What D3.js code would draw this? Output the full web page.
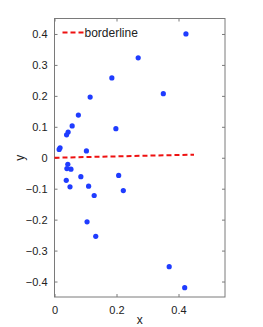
<!DOCTYPE html>
<html>
<head>
<meta charset="utf-8">
<script src="https://cdn.jsdelivr.net/npm/d3@7"></script>
<style>
  body { margin: 0; background: #fff; }
  svg { font-family: "Liberation Sans", Arial, sans-serif; }
</style>
</head>
<body>
<div id="chart"></div>
<script>
// data
const xs = [0.424, 0.270, 0.185, 0.115, 0.351, 0.077, 0.057, 0.044, 0.039, 0.198,
  0.018, 0.015, 0.103, 0.043, 0.040, 0.053, 0.085, 0.038, 0.207, 0.050,
  0.110, 0.222, 0.128, 0.105, 0.133, 0.370, 0.420];
const ys = [0.400, 0.323, 0.258, 0.196, 0.207, 0.138, 0.103, 0.083, 0.074, 0.094,
  0.032, 0.027, 0.022, -0.021, -0.035, -0.037, -0.061, -0.073, -0.057, -0.094,
  -0.092, -0.106, -0.122, -0.207, -0.254, -0.352, -0.420];
const lineX = [0, 0.45];
const lineY = [0, 0.01];
const xTicks = [0, 0.2, 0.4];
const yTicks = [-0.4, -0.3, -0.2, -0.1, 0, 0.1, 0.2, 0.3, 0.4];

let dimensions = {
  width: 263,
  height: 327,
  margin: { top: 18.5, bottom: 30, left: 54.5, right: 38 },
};
dimensions.containerWidth = dimensions.width - dimensions.margin.left - dimensions.margin.right;
dimensions.containerHeight = dimensions.height - dimensions.margin.top - dimensions.margin.bottom;

const svg = d3.select("#chart").append("svg")
  .attr("width", dimensions.width)
  .attr("height", dimensions.height);

const container = svg.append("g")
  .attr("transform", `translate(${dimensions.margin.left}, ${dimensions.margin.top})`);

const xScale = d3.scaleLinear().domain([0, 0.55]).range([0, dimensions.containerWidth]);
const yScale = d3.scaleLinear().domain([-0.45, 0.45]).range([dimensions.containerHeight, 0]);

const fmt = (d) => d === 0 ? "0" : (d < 0 ? "\u2212" : "") + Math.abs(d).toFixed(1);

// axes, matlab style: ticks inside, mirrored
const axisColor = "#7a7a7a";
function styleAxis(g) {
  g.select(".domain").remove();
  g.selectAll(".tick line").attr("stroke", axisColor);
  g.selectAll(".tick text").attr("fill", "#222").style("font-size", "11px");
}
container.append("g")
  .attr("transform", `translate(0, ${dimensions.containerHeight})`)
  .call(d3.axisBottom(xScale).tickValues(xTicks).tickFormat(fmt).tickSizeInner(-3).tickPadding(9))
  .call(styleAxis);
container.append("g")
  .call(d3.axisTop(xScale).tickValues(xTicks).tickSizeInner(-3).tickFormat(""))
  .call(styleAxis);
container.append("g")
  .call(d3.axisLeft(yScale).tickValues(yTicks).tickFormat(fmt).tickSizeInner(-3).tickPadding(7))
  .call(styleAxis);
container.append("g")
  .attr("transform", `translate(${dimensions.containerWidth}, 0)`)
  .call(d3.axisRight(yScale).tickValues(yTicks).tickSizeInner(-3).tickFormat(""))
  .call(styleAxis);

container.append("rect")
  .attr("width", dimensions.containerWidth)
  .attr("height", dimensions.containerHeight)
  .attr("fill", "none")
  .attr("stroke", axisColor)
  .attr("stroke-width", 1);

// borderline
const line = d3.line().x((d) => xScale(d[0])).y((d) => yScale(d[1]));
container.append("path")
  .datum(d3.zip(lineX, lineY))
  .attr("d", line)
  .attr("fill", "none")
  .attr("stroke", "#ee1111")
  .attr("stroke-width", 2)
  .attr("stroke-dasharray", "5,3");

// points
container.selectAll("circle")
  .data(d3.zip(xs, ys))
  .join("circle")
  .attr("r", 2.6)
  .attr("fill", "#1f3cff")
  .attr("cx", (d) => xScale(d[0]))
  .attr("cy", (d) => yScale(d[1]));

// legend
container.append("line")
  .attr("x1", 8).attr("x2", 29)
  .attr("y1", 14).attr("y2", 14)
  .attr("stroke", "#ee1111")
  .attr("stroke-width", 2)
  .attr("stroke-dasharray", "5,3");
container.append("text")
  .attr("x", 30).attr("y", 18.5)
  .attr("fill", "#222")
  .style("font-size", "12px")
  .text("borderline");

// labels
svg.append("text")
  .attr("x", dimensions.margin.left + dimensions.containerWidth / 2)
  .attr("y", 324)
  .attr("text-anchor", "middle")
  .attr("fill", "#222")
  .style("font-size", "12px")
  .text("x");
svg.append("text")
  .attr("transform", `translate(24, ${dimensions.margin.top + dimensions.containerHeight / 2}) rotate(-90)`)
  .attr("text-anchor", "middle")
  .attr("fill", "#222")
  .style("font-size", "12px")
  .text("y");
</script>
</body>
</html>
